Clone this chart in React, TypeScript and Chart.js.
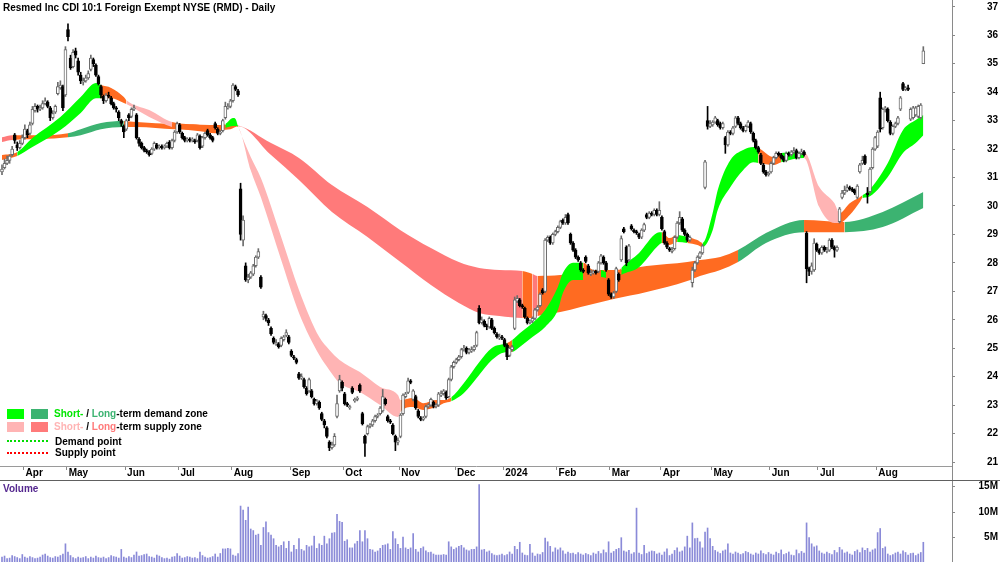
import React, { useEffect, useRef } from "react";
import { Chart, registerables } from "chart.js";

Chart.register(...registerables);

const FONT = 'Arial, "Liberation Sans", Helvetica, sans-serif';
const TITLE = "Resmed Inc CDI 10:1 Foreign Exempt NYSE (RMD) - Daily";

// first trading-day index of each month, and its label
const monthStarts = [9, 26, 49, 70, 91, 114, 135, 157, 179, 198, 219, 240, 260, 280, 303, 322, 345];
const monthLabels = ["Apr", "May", "Jun", "Jul", "Aug", "Sep", "Oct", "Nov", "Dec", "2024", "Feb", "Mar", "Apr", "May", "Jun", "Jul", "Aug"];
const priceTicks = [21, 22, 23, 24, 25, 26, 27, 28, 29, 30, 31, 32, 33, 34, 35, 36, 37];
const volumeTicks = [5, 10, 15];

// daily candles [open, high, low, close]
const candles: number[][] = [
  // Mar 2023
  [31.2,31.45,31.1,31.3],[31.35,31.65,31.3,31.5],[31.5,31.75,31.45,31.6],[31.6,31.8,31.5,31.75],[31.8,32.1,31.75,32.0],[32.5,32.55,32.2,32.3],[32.15,32.25,31.95,32.05],[32.05,32.3,32.0,32.2],[32.2,32.5,32.15,32.4],
  // Apr
  [32.4,32.85,32.35,32.7],[32.65,32.7,32.4,32.5],[32.55,32.95,32.5,32.85],[32.9,33.5,32.85,33.4],[33.35,33.6,33.3,33.5],[33.5,33.55,33.3,33.4],[33.4,33.55,33.35,33.45],[33.45,33.7,33.4,33.6],[33.6,33.8,33.55,33.7],[33.65,33.7,33.45,33.5],[33.45,33.5,33.0,33.1],[33.1,33.35,33.05,33.25],[33.3,33.55,33.25,33.5],[33.95,34.35,33.9,34.2],[34.15,34.4,34.1,34.25],[34.2,34.25,33.35,33.45],[33.9,35.6,33.85,35.5],
  // May
  [36.2,36.4,35.8,35.95],[35.2,35.3,34.8,34.85],[34.9,35.5,34.85,35.4],[35.45,35.55,35.2,35.3],[35.1,35.2,34.6,34.7],[34.6,34.7,34.3,34.4],[34.35,34.5,34.25,34.4],[34.4,34.6,34.35,34.5],[34.5,34.75,34.45,34.65],[34.8,35.3,34.75,35.2],[35.15,35.2,34.9,35.0],[34.95,35.0,34.55,34.6],[34.55,34.6,34.25,34.3],[34.2,34.25,33.8,33.9],[33.85,33.9,33.6,33.7],[33.7,33.95,33.65,33.9],[33.9,34.0,33.8,33.85],[33.8,33.85,33.55,33.6],[33.6,33.65,33.4,33.45],[33.45,33.5,33.3,33.4],[33.3,33.35,33.0,33.1],[33.0,33.05,32.8,32.9],[32.8,32.85,32.4,32.6],
  // Jun
  [32.7,33.05,32.65,33.0],[33.2,33.25,33.0,33.1],[33.15,33.45,33.1,33.4],[33.4,33.55,33.35,33.45],[33.2,33.25,32.35,32.4],[32.35,32.4,32.1,32.2],[32.2,32.25,32.0,32.05],[32.05,32.1,31.9,31.95],[31.95,32.0,31.85,31.9],[31.9,31.95,31.75,31.8],[31.85,32.05,31.8,32.0],[32.0,32.25,31.95,32.2],[32.15,32.2,32.0,32.05],[32.05,32.15,32.0,32.1],[32.1,32.15,32.0,32.05],[32.05,32.15,32.0,32.1],[32.1,32.25,32.05,32.2],[32.25,32.3,32.0,32.05],[32.05,32.35,32.0,32.3],[32.3,32.65,32.25,32.6],[32.6,32.95,32.55,32.9],
  // Jul
  [32.85,32.9,32.55,32.6],[32.55,32.6,32.35,32.4],[32.4,32.45,32.25,32.3],[32.3,32.4,32.25,32.35],[32.35,32.4,32.25,32.3],[32.3,32.4,32.25,32.35],[32.3,32.35,32.2,32.25],[32.3,32.55,32.25,32.5],[32.45,32.5,32.0,32.05],[32.1,32.45,32.05,32.4],[32.4,32.6,32.35,32.55],[32.65,32.7,32.45,32.5],[32.5,32.55,32.35,32.4],[32.4,32.45,32.25,32.3],[32.9,32.95,32.7,32.75],[32.7,32.75,32.5,32.55],[32.55,32.65,32.5,32.6],[32.65,33.05,32.6,33.0],[33.1,33.65,33.05,33.5],[33.45,33.6,33.4,33.5],[33.5,33.75,33.45,33.7],
  // Aug
  [33.7,34.3,33.65,34.25],[34.2,34.25,34.05,34.1],[34.05,34.1,33.85,33.9],[30.6,30.8,28.8,29.0],[28.8,29.65,28.6,29.5],[27.9,28.0,27.35,27.4],[27.4,27.6,27.3,27.5],[27.5,27.7,27.45,27.65],[27.6,27.95,27.55,27.9],[27.9,28.25,27.85,28.2],[28.2,28.5,28.15,28.4],[27.5,27.55,27.1,27.15],[26.1,26.3,26.0,26.2],[26.15,26.2,25.95,26.05],[26.0,26.05,25.8,25.9],[25.7,25.75,25.45,25.5],[25.35,25.4,25.15,25.2],[25.15,25.3,25.1,25.2],[25.15,25.2,25.0,25.05],[25.1,25.4,25.05,25.35],[25.3,25.45,25.25,25.4],[25.45,25.65,25.4,25.55],[25.4,25.45,25.15,25.2],
  // Sep
  [24.9,24.95,24.7,24.75],[24.7,24.75,24.6,24.65],[24.6,24.65,24.45,24.5],[24.1,24.15,23.9,23.95],[23.95,24.1,23.9,24.0],[23.9,23.95,23.6,23.65],[23.6,23.65,23.35,23.4],[23.5,23.95,23.45,23.9],[23.5,23.55,23.25,23.3],[23.2,23.25,23.0,23.05],[23.05,23.2,23.0,23.15],[23.1,23.15,22.85,22.9],[22.7,22.75,22.45,22.5],[22.45,22.5,22.2,22.3],[22.2,22.25,21.85,21.9],[21.7,21.75,21.4,21.5],[21.5,21.7,21.45,21.6],[21.6,22.0,21.55,21.9],[22.6,23.35,22.55,23.05],[23.5,24.05,23.45,23.9],[23.8,23.85,23.5,23.6],
  // Oct
  [23.4,23.45,23.0,23.05],[23.05,23.1,22.95,23.0],[22.9,23.0,22.85,22.95],[23.6,23.65,23.4,23.45],[23.15,23.25,23.1,23.2],[23.2,23.3,23.15,23.25],[23.7,23.75,23.45,23.5],[22.7,22.75,22.3,22.35],[21.9,21.95,21.2,21.65],[22.0,22.3,21.95,22.25],[22.25,22.35,22.2,22.3],[22.3,22.5,22.25,22.45],[22.45,22.65,22.4,22.6],[22.6,22.7,22.55,22.65],[22.7,22.95,22.65,22.9],[22.8,23.55,22.75,23.3],[23.2,23.25,23.0,23.05],[22.6,22.65,22.4,22.45],[22.45,22.5,22.35,22.4],[22.3,22.35,21.95,22.0],[21.9,21.95,21.4,21.7],[21.7,21.85,21.6,21.75],
  // Nov
  [21.9,22.7,21.85,22.65],[22.7,23.4,22.65,23.35],[23.3,23.45,23.25,23.4],[23.45,23.95,23.4,23.85],[23.85,23.9,23.75,23.8],[23.2,23.55,23.15,23.5],[23.3,23.35,22.85,22.9],[22.8,22.85,22.55,22.6],[22.55,22.6,22.45,22.5],[22.5,22.6,22.45,22.55],[22.6,23.0,22.55,22.95],[22.95,23.05,22.9,23.0],[23.0,23.25,22.95,23.2],[23.1,23.15,22.9,22.95],[22.95,23.05,22.9,23.0],[23.0,23.45,22.95,23.4],[23.35,23.5,23.3,23.4],[23.4,23.55,23.35,23.5],[23.45,23.5,23.2,23.25],[23.3,23.95,23.25,23.9],[23.9,24.4,23.85,24.35],[24.35,24.55,24.3,24.5],
  // Dec
  [24.5,24.65,24.45,24.6],[24.6,24.75,24.55,24.7],[24.7,25.0,24.65,24.95],[24.95,25.1,24.9,25.0],[25.0,25.05,24.8,24.85],[24.85,25.0,24.8,24.95],[24.9,25.05,24.85,24.95],[24.95,25.1,24.9,25.05],[25.1,25.6,25.05,25.55],[26.4,26.5,25.85,25.9],[25.9,26.1,25.85,26.0],[25.95,26.0,25.75,25.8],[25.8,25.85,25.65,25.75],[25.75,26.1,25.7,26.05],[26.0,26.05,25.65,25.7],[25.7,25.75,25.5,25.55],[25.5,25.55,25.35,25.4],[25.35,25.5,25.3,25.4],[25.4,25.45,25.3,25.35],
  // Jan 2024
  [25.3,25.35,25.05,25.1],[25.1,25.15,24.6,24.7],[24.75,25.05,24.7,25.0],[24.95,25.1,24.9,25.05],[25.7,26.8,25.65,26.7],[26.65,26.85,26.6,26.75],[26.7,26.75,26.45,26.5],[26.5,26.55,26.4,26.45],[26.4,26.45,26.05,26.1],[26.05,26.1,25.85,25.9],[25.9,26.0,25.85,25.95],[25.95,26.1,25.9,26.05],[26.05,26.4,26.0,26.35],[26.35,26.5,26.3,26.45],[26.5,26.95,26.45,26.9],[27.05,27.1,26.9,26.95],[27.0,28.85,26.95,28.8],[28.8,28.95,28.75,28.9],[28.9,28.95,28.65,28.7],[28.7,29.05,28.65,29.0],[29.0,29.15,28.95,29.1],
  // Feb
  [29.1,29.3,29.05,29.25],[29.25,29.5,29.2,29.45],[29.5,29.55,29.35,29.4],[29.4,29.7,29.35,29.6],[29.7,29.75,29.35,29.4],[29.0,29.05,28.65,28.7],[28.7,28.75,28.4,28.45],[28.45,28.5,28.15,28.2],[28.2,28.25,28.05,28.1],[28.0,28.05,27.7,27.75],[27.75,27.8,27.65,27.7],[28.2,28.25,28.0,28.05],[27.9,27.95,27.6,27.65],[27.6,27.75,27.55,27.65],[27.65,27.75,27.6,27.7],[27.7,27.75,27.6,27.65],[27.7,28.05,27.65,28.0],[28.0,28.3,27.95,28.25],[28.2,28.25,27.95,28.0],[28.0,28.05,27.7,27.75],[27.4,27.45,26.85,26.9],
  // Mar
  [26.9,26.95,26.75,26.8],[26.8,27.0,26.75,26.95],[27.0,27.85,26.95,27.8],[27.6,27.65,27.35,27.4],[28.1,28.95,28.05,28.85],[29.2,29.25,29.05,29.1],[28.55,28.6,27.9,28.0],[28.1,28.65,28.05,28.6],[29.3,29.35,29.15,29.2],[29.15,29.2,29.05,29.1],[29.1,29.15,29.0,29.05],[29.0,29.05,28.85,28.9],[28.9,29.2,28.85,29.15],[29.15,29.4,29.1,29.35],[29.7,29.75,29.55,29.6],[29.6,29.8,29.55,29.75],[29.75,29.8,29.65,29.7],[29.7,29.9,29.65,29.85],[29.85,29.9,29.65,29.7],[29.7,30.15,29.65,29.85],
  // Apr
  [29.6,29.65,29.15,29.2],[29.1,29.15,28.65,28.7],[28.7,28.75,28.5,28.55],[28.5,28.55,28.4,28.45],[28.4,28.55,28.35,28.45],[28.5,28.95,28.45,28.9],[28.9,29.45,28.85,29.4],[29.4,29.8,29.35,29.6],[29.55,29.6,29.1,29.15],[29.15,29.2,28.95,29.0],[29.0,29.05,28.75,28.8],[28.8,28.95,28.75,28.9],[27.3,27.85,27.15,27.75],[27.75,28.05,27.7,28.0],[28.0,28.25,27.95,28.2],[28.2,28.4,28.15,28.35],[28.35,28.65,28.3,28.6],[30.65,31.6,30.6,31.55],[33.0,33.5,32.7,32.8],[32.8,33.0,32.75,32.9],
  // May
  [32.85,33.0,32.8,32.95],[32.95,33.15,32.9,33.1],[33.0,33.05,32.8,32.85],[32.9,32.95,32.7,32.75],[32.75,32.95,32.7,32.9],[32.4,32.45,31.85,32.15],[32.15,32.65,32.1,32.6],[32.6,32.65,32.5,32.55],[32.55,32.8,32.5,32.75],[32.8,33.15,32.75,33.1],[33.1,33.15,32.85,32.9],[32.9,32.95,32.7,32.75],[32.75,32.8,32.6,32.65],[32.65,32.85,32.6,32.8],[32.8,33.0,32.75,32.95],[32.9,32.95,32.55,32.6],[32.55,32.6,32.25,32.3],[32.3,32.35,32.0,32.05],[32.05,32.1,31.85,31.9],[31.8,31.85,31.45,31.5],[31.45,31.5,31.15,31.2],[31.2,31.25,31.05,31.1],[31.1,31.2,31.05,31.15],
  // Jun
  [31.2,31.55,31.15,31.5],[31.5,31.75,31.45,31.7],[31.7,31.9,31.65,31.85],[31.85,31.9,31.75,31.8],[31.8,31.85,31.65,31.7],[31.7,31.75,31.55,31.6],[31.6,31.9,31.55,31.85],[31.85,31.9,31.75,31.8],[31.8,31.95,31.75,31.9],[31.9,32.05,31.85,31.95],[31.95,32.0,31.65,31.7],[31.7,31.9,31.65,31.85],[31.85,32.0,31.8,31.9],[31.9,31.95,31.75,31.8],[29.05,29.1,27.3,27.8],[27.8,27.85,27.55,27.7],[27.7,28.0,27.6,27.9],[27.75,28.85,27.7,28.7],[28.65,28.7,28.4,28.45],
  // Jul
  [28.45,28.5,28.3,28.35],[28.35,28.6,28.3,28.55],[28.55,28.6,28.4,28.45],[28.4,28.55,28.35,28.45],[28.45,28.85,28.4,28.8],[28.8,28.85,28.5,28.55],[28.55,28.6,28.2,28.45],[28.45,28.6,28.4,28.55],[29.45,29.95,29.4,29.9],[30.3,30.55,30.25,30.45],[30.45,30.7,30.4,30.55],[30.55,30.75,30.5,30.65],[30.65,30.7,30.55,30.6],[30.6,30.65,30.5,30.55],[30.55,30.6,30.4,30.45],[30.3,30.75,30.25,30.7],[31.2,31.5,31.15,31.45],[31.5,31.75,31.45,31.6],[31.75,31.8,31.45,31.5],[30.45,30.65,30.1,30.4],[30.5,31.35,30.45,31.3],[31.35,32.05,31.3,32.0],[32.0,32.45,31.95,32.4],
  // Aug
  [32.1,32.65,32.05,32.6],[33.8,34.0,32.6,32.7],[32.75,33.45,32.7,33.4],[33.4,33.5,33.3,33.45],[33.4,33.45,32.95,33.0],[32.95,33.0,32.5,32.55],[32.55,32.85,32.5,32.8],[32.8,32.95,32.75,32.9],[32.9,33.15,32.85,33.1],[33.4,33.85,33.35,33.8],[34.3,34.35,34.05,34.1],[34.1,34.2,34.05,34.15],[34.15,34.25,34.05,34.1],[33.05,33.45,33.0,33.4],[33.1,33.5,33.05,33.45],[33.2,33.5,33.15,33.45],[33.15,33.55,33.1,33.5],[33.1,33.6,33.05,33.55],[35.0,35.6,35.0,35.45],
];

// daily volume, millions
const volumes = [
  1.2,1.4,0.9,1.0,1.5,1.3,1.1,0.9,1.7,
  1.2,1.0,1.3,1.1,0.9,1.0,1.2,1.6,1.8,1.4,1.1,1.0,1.3,1.2,1.5,1.8,3.8,
  2.2,1.5,1.1,0.9,1.2,1.0,1.1,1.3,0.9,1.2,1.0,1.4,1.1,1.0,1.2,0.9,1.1,1.5,1.3,1.2,1.0,2.7,1.2,
  1.0,1.3,1.1,1.6,2.2,1.4,1.5,1.7,1.8,1.3,1.2,1.0,1.6,1.4,1.1,0.9,1.0,0.8,1.2,1.3,1.9,
  1.4,1.0,1.1,1.3,1.2,1.0,1.1,0.9,2.2,1.5,1.2,1.0,1.1,1.3,1.8,1.2,1.9,2.8,2.8,2.9,2.8,
  1.6,1.4,1.9,11.2,10.4,8.4,11.0,6.7,6.4,5.5,5.7,3.5,7.0,8.1,6.0,5.5,4.8,3.5,3.2,3.5,4.2,2.9,4.3,
  2.2,3.5,2.7,4.8,2.7,2.4,3.5,3.2,3.4,5.3,2.9,3.8,3.5,5.3,3.8,4.8,5.9,6.0,9.6,8.2,8.0,
  4.3,4.6,3.0,3.0,3.8,4.3,6.4,4.2,6.4,4.8,2.7,2.6,2.2,2.4,2.9,3.5,3.6,3.8,2.7,6.2,4.8,3.7,
  2.9,5.1,3.0,2.7,3.0,5.8,2.7,2.2,2.9,3.2,2.4,2.1,2.2,1.8,1.6,1.6,1.6,1.7,1.6,4.2,3.2,2.7,
  3.0,3.3,3.5,3.0,2.6,2.4,2.7,2.7,3.2,15.4,2.6,2.7,2.2,2.4,1.9,1.6,1.5,1.6,1.8,
  1.5,1.7,2.2,1.8,3.3,2.7,4.1,2.0,1.6,1.5,3.7,2.0,1.4,1.8,1.7,2.1,4.9,4.2,3.3,2.2,3.0,
  2.6,3.0,2.4,1.8,2.2,1.9,2.0,1.7,2.1,1.8,1.6,1.9,1.7,1.5,2.0,1.8,2.3,1.9,2.6,2.1,4.2,
  2.0,2.3,2.7,2.9,5.0,2.4,2.2,2.5,1.8,2.1,10.8,2.0,1.7,3.5,1.9,2.2,2.4,2.3,1.8,2.0,
  1.6,2.2,2.8,1.5,1.8,2.5,3.0,2.2,2.4,3.2,5.3,3.0,7.9,4.8,4.9,4.2,3.0,6.1,6.9,4.8,
  3.3,2.5,2.2,1.9,2.4,2.6,3.8,2.0,1.8,2.2,2.0,1.7,1.9,2.3,2.1,1.8,1.6,2.0,1.8,2.4,1.9,1.7,2.1,
  1.8,1.6,2.2,1.9,2.6,1.7,1.9,2.2,1.6,1.5,2.6,1.9,2.3,2.0,7.9,5.0,3.8,3.2,3.4,
  2.4,2.0,1.8,2.2,1.9,1.7,2.5,2.1,3.1,2.6,2.0,2.2,1.8,1.6,2.3,2.6,2.1,3.0,2.5,2.9,2.2,2.6,2.8,
  6.0,6.8,2.9,3.2,1.8,1.5,1.7,2.0,2.2,1.8,2.4,2.1,1.6,1.9,2.0,1.5,1.8,2.1,4.1,
];

// short-term zone: [day index, upper, lower, zone of following stretch]
// g = demand, p = supply, o = transition
const shortBand: [number, number, number, string][] = [
  [0,31.79,31.62,"o"],[6,31.90,31.76,"g"],[12,32.39,32.07,"g"],[23,33.13,32.67,"g"],[31,33.83,33.27,"g"],[37,34.32,33.79,"g"],
  [39,34.25,33.79,"o"],[43,34.15,33.79,"o"],[48,33.83,33.62,"o"],[49,33.72,33.58,"p"],[58,33.37,33.13,"p"],
  [67,32.95,32.78,"o"],[78,32.85,32.63,"o"],[84,32.78,32.56,"o"],[88,32.88,32.74,"g"],[91,33.09,32.81,"g"],[92,33.06,32.81,"g"],
  [93,32.80,32.78,"p"],[98,31.72,31.26,"p"],[102,30.98,30.31,"p"],[110,28.91,28.10,"p"],[117,27.05,26.24,"p"],[125,25.39,24.76,"p"],
  [129,24.94,24.23,"p"],[133,24.59,23.78,"p"],[141,24.16,23.46,"p"],[149,23.64,23.00,"p"],[156,23.36,22.58,"p"],
  [157,23.18,22.76,"o"],[162,23.25,22.93,"o"],[166,23.07,22.83,"o"],[171,23.18,22.93,"o"],[174,23.18,23.07,"o"],
  [177,23.28,23.14,"g"],[182,23.78,23.43,"g"],[188,24.51,24.06,"g"],[193,25.01,24.59,"g"],[199,25.18,24.87,"o"],
  [201,25.29,24.87,"g"],[204,25.53,25.04,"g"],[209,25.89,25.39,"g"],[214,26.34,25.75,"g"],[219,27.15,26.34,"g"],[221,27.64,26.94,"g"],[225,28.00,27.40,"g"],
  [229,28.00,27.40,"o"],[233,27.75,27.40,"o"],[236,27.75,27.50,"g"],[238,27.68,27.47,"o"],[242,27.57,27.40,"o"],
  [244,27.82,27.57,"g"],[251,28.35,27.85,"g"],[258,29.05,28.56,"g"],[260,29.08,28.70,"o"],[263,28.87,28.63,"o"],
  [266,28.98,28.73,"g"],[270,28.91,28.70,"o"],[274,28.80,28.63,"o"],[276,28.70,28.56,"g"],[280,29.75,29.15,"g"],
  [282,30.56,29.86,"g"],[287,31.62,30.67,"g"],[292,31.97,31.26,"g"],[296,32.07,31.54,"g"],[298,32.04,31.51,"o"],
  [304,31.72,31.44,"o"],[307,31.86,31.54,"g"],[316,31.90,31.69,"p"],[322,30.67,29.96,"p"],[328,30.10,29.40,"p"],
  [330,29.75,29.40,"o"],[334,30.10,29.68,"o"],[338,30.31,30.14,"o"],[339,30.38,30.28,"g"],[341,30.49,30.31,"g"],
  [349,31.51,31.02,"g"],[355,32.67,31.86,"g"],[360,33.02,32.21,"g"],[363,33.20,32.49,"g"],
];

// long-term zone: [day index, upper, lower, zone] d = demand, s = supply, o = transition
const longBand: [number, number, number, string][] = [
  [0,32.42,32.25,"s"],[4,32.49,32.32,"o"],[15,32.49,32.35,"o"],[26,32.56,32.42,"d"],[31,32.70,32.49,"d"],[39,32.92,32.70,"d"],
  [48,32.99,32.78,"o"],[53,32.95,32.78,"o"],[68,32.88,32.70,"o"],[82,32.85,32.67,"o"],[90,32.85,32.70,"o"],
  [93,32.83,32.80,"s"],[106,32.21,31.79,"s"],[117,31.69,30.91,"s"],[130,30.74,29.79,"s"],[144,29.96,28.91,"s"],
  [157,29.15,28.03,"s"],[169,28.52,27.22,"s"],[180,28.03,26.59,"s"],[188,27.82,26.24,"s"],[196,27.75,26.13,"s"],
  [205,27.71,26.06,"o"],[209,27.61,26.06,"s"],[211,27.54,26.13,"o"],[220,27.57,26.27,"o"],[228,27.75,26.45,"o"],
  [241,27.75,26.73,"o"],[254,27.89,26.98,"o"],[270,28.03,27.36,"o"],[275,28.10,27.54,"o"],[283,28.21,27.75,"o"],
  [290,28.45,28.03,"d"],[301,29.05,28.70,"d"],[316,29.51,29.08,"o"],[332,29.44,29.08,"d"],[347,29.79,29.26,"d"],[363,30.49,29.93,"d"],
];

const ZONE: Record<string, string> = {
  g: "#00ff00",
  d: "#3cb371",
  p: "#ffb4b4",
  s: "#ff7a7a",
  o: "#ff6b21",
};

const X_MIN = -0.788;
const X_MAX = 374.3;
const tickFont = { family: FONT, size: 10, weight: "bold" as const };

function bandDatasets(band: [number, number, number, string][], order: number) {
  const common = {
    type: "line" as const,
    borderWidth: 0,
    borderColor: "rgba(0,0,0,0)",
    pointRadius: 0,
    pointHoverRadius: 0,
    cubicInterpolationMode: "monotone" as const,
    order,
  };
  return [
    {
      ...common,
      data: band.map((b) => ({ x: b[0], y: b[1] })),
      fill: "+1",
      backgroundColor: ZONE[band[0][3]],
      segment: {
        backgroundColor: (ctx: any) => ZONE[band[ctx.p0DataIndex][3]],
      },
    },
    {
      ...common,
      data: band.map((b) => ({ x: b[0], y: b[2] })),
      fill: false,
    },
  ];
}

export default function App() {
  const priceRef = useRef<HTMLCanvasElement>(null);
  const volRef = useRef<HTMLCanvasElement>(null);

  useEffect(() => {
    const up = (c: number[]) => c[3] >= c[0];
    const priceChart = new Chart(priceRef.current as HTMLCanvasElement, {
      type: "line",
      data: {
        datasets: [
          ...bandDatasets(longBand, 3),
          ...bandDatasets(shortBand, 2),
          {
            type: "bar",
            data: candles.map((c, i) => ({ x: i, y: [c[2], c[1]] })),
            backgroundColor: candles.map((c) => (up(c) ? "#6c6c6c" : "#000000")),
            barThickness: 1,
            grouped: false,
            order: 1,
          },
          {
            type: "bar",
            data: candles.map((c, i) => ({ x: i, y: [c[0], c[3]] })),
            backgroundColor: candles.map((c) => (up(c) ? "#ffffff" : "#000000")),
            borderColor: candles.map((c) => (up(c) ? "#6c6c6c" : "#000000")),
            borderWidth: 1,
            borderSkipped: false,
            barThickness: 3,
            grouped: false,
            order: 0,
          },
        ] as any,
      },
      options: {
        responsive: false,
        animation: false,
        devicePixelRatio: 1,
        events: [],
        layout: { padding: { left: 0, right: 2, top: 0, bottom: 0 } },
        plugins: { legend: { display: false }, tooltip: { enabled: false } },
        scales: {
          x: {
            type: "linear",
            min: X_MIN,
            max: X_MAX,
            offset: false,
            position: "bottom",
            afterBuildTicks: (s: any) => {
              s.ticks = monthStarts.map((i) => ({ value: i - 0.5 }));
            },
            afterFit: (s: any) => {
              s.height = 14;
              s.paddingLeft = 0;
              s.paddingRight = 0;
            },
            ticks: {
              autoSkip: false,
              maxRotation: 0,
              minRotation: 0,
              align: "start",
              labelOffset: 2,
              padding: -3,
              color: "#000",
              font: tickFont,
              callback: (_v: any, i: number) => monthLabels[i],
            },
            grid: { offset: false, drawOnChartArea: false, drawTicks: true, tickLength: 4, color: "#888" },
            border: { display: true, color: "#9a9a9a" },
          },
          y: {
            type: "linear",
            position: "right",
            min: 20.86,
            max: 37.24,
            beginAtZero: false,
            afterBuildTicks: (s: any) => {
              s.ticks = priceTicks.map((v) => ({ value: v }));
            },
            afterFit: (s: any) => {
              s.width = 46;
              s.paddingTop = 0;
              s.paddingBottom = 0;
            },
            ticks: {
              crossAlign: "far",
              color: "#000",
              font: tickFont,
              callback: (v: any) => String(v),
            },
            grid: { drawOnChartArea: false, tickLength: 3, color: "#888" },
            border: { display: false },
          },
        },
      } as any,
    });

    const volChart = new Chart(volRef.current as HTMLCanvasElement, {
      type: "bar",
      data: {
        datasets: [
          {
            data: volumes.map((v, i) => ({ x: i, y: v })),
            backgroundColor: "#8a8ad8",
            barThickness: 1,
            grouped: false,
          },
        ] as any,
      },
      options: {
        responsive: false,
        animation: false,
        devicePixelRatio: 1,
        events: [],
        layout: { padding: { left: 0, right: 2, top: 0, bottom: 0 } },
        plugins: { legend: { display: false }, tooltip: { enabled: false } },
        scales: {
          x: { type: "linear", display: false, min: X_MIN, max: X_MAX, offset: false, grid: { offset: false } },
          y: {
            type: "linear",
            position: "right",
            min: -0.16,
            max: 16.31,
            beginAtZero: false,
            afterBuildTicks: (s: any) => {
              s.ticks = volumeTicks.map((v) => ({ value: v }));
            },
            afterFit: (s: any) => {
              s.width = 46;
              s.paddingTop = 0;
              s.paddingBottom = 0;
            },
            ticks: {
              crossAlign: "far",
              color: "#000",
              font: tickFont,
              callback: (v: any) => `${v}M`,
            },
            grid: { drawOnChartArea: false, tickLength: 3, color: "#888" },
            border: { display: false },
          },
        },
      } as any,
    });

    return () => {
      priceChart.destroy();
      volChart.destroy();
    };
  }, []);

  const text: React.CSSProperties = {
    position: "absolute",
    fontFamily: FONT,
    fontSize: 10,
    fontWeight: "bold",
    lineHeight: "12px",
    whiteSpace: "nowrap",
    color: "#000",
  };

  return (
    <div
      style={{
        position: "fixed",
        left: 0,
        top: 0,
        width: 1000,
        height: 562,
        background: "#fff",
        overflow: "hidden",
      }}
    >
      <canvas ref={priceRef} width={1000} height={480} style={{ position: "absolute", left: 0, top: 0, display: "block" }} />
      <canvas ref={volRef} width={1000} height={84} style={{ position: "absolute", left: 0, top: 480, display: "block" }} />
      <div style={{ position: "absolute", left: 952, top: 0, width: 1, height: 562, background: "#8a8a8a" }} />
      <div style={{ position: "absolute", left: 0, top: 480, width: 1000, height: 1, background: "#606060" }} />

      <div style={{ ...text, left: 3, top: 1.5 }}>{TITLE}</div>

      <div style={{ position: "absolute", left: 7, top: 409, width: 17, height: 10, background: ZONE.g }} />
      <div style={{ position: "absolute", left: 31, top: 409, width: 17, height: 10, background: ZONE.d }} />
      <div style={{ ...text, left: 54, top: 408 }}>
        <span style={{ color: "#00e600" }}>Short-</span> / <span style={{ color: ZONE.d }}>Long</span>-term demand zone
      </div>
      <div style={{ position: "absolute", left: 7, top: 422, width: 17, height: 10, background: ZONE.p }} />
      <div style={{ position: "absolute", left: 31, top: 422, width: 17, height: 10, background: ZONE.s }} />
      <div style={{ ...text, left: 54, top: 421 }}>
        <span style={{ color: ZONE.p }}>Short-</span> / <span style={{ color: ZONE.s }}>Long</span>-term supply zone
      </div>
      <div style={{ position: "absolute", left: 7, top: 440, width: 41, height: 0, borderTop: "2px dotted #00dd00" }} />
      <div style={{ ...text, left: 55, top: 435.5 }}>Demand point</div>
      <div style={{ position: "absolute", left: 7, top: 452, width: 41, height: 0, borderTop: "2px dotted #ff0000" }} />
      <div style={{ ...text, left: 55, top: 447 }}>Supply point</div>

      <div style={{ ...text, left: 3, top: 483, color: "#55288f" }}>Volume</div>
    </div>
  );
}
